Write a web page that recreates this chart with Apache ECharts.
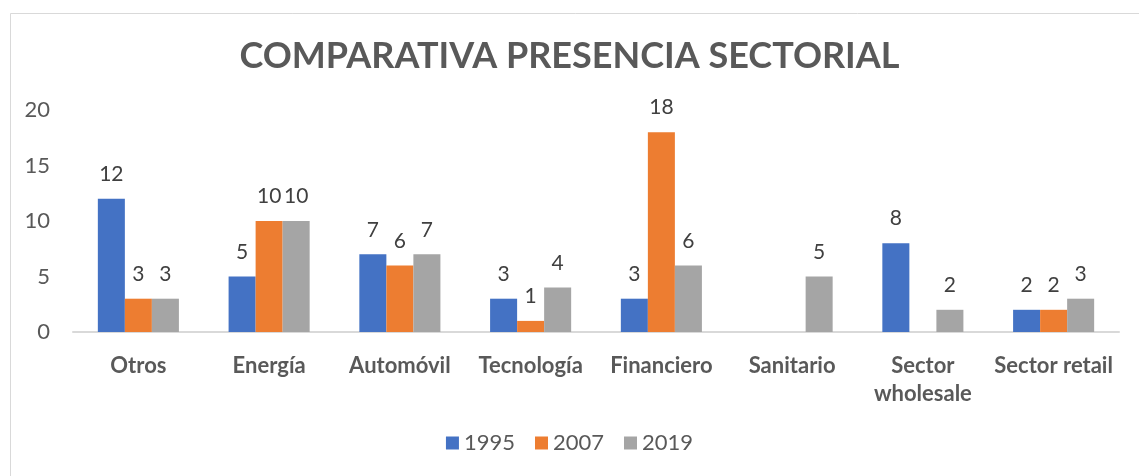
<!DOCTYPE html>
<html lang="es">
<head>
    <meta charset="UTF-8">
    <title>Comparativa presencia sectorial</title>
    <script src="https://cdn.jsdelivr.net/npm/echarts@6/dist/echarts.min.js"></script>
    <style>
        html, body { margin: 0; padding: 0; background: #fff; }
        #main { width: 1139px; height: 476px; }
    </style>
</head>
<body>
<div id="main"></div>
<script>
    // datos
    let sectores = ['Otros', 'Energía', 'Automóvil', 'Tecnología', 'Financiero', 'Sanitario', 'Sector wholesale', 'Sector retail']
    let anios = ['1995', '2007', '2019']
    let v1995 = [12, 5, 7, 3, 3, null, 8, 2]
    let v2007 = [3, 10, 6, 1, 18, null, null, 2]
    let v2019 = [3, 10, 7, 4, 6, 5, 2, 3]
    let colores = ['#4472c4', '#ed7d31', '#a5a5a5']

    let fuente = 'Lato'
    let gris = '#595959'

    let chart = echarts.init(document.getElementById('main'))

    function serie(name, data, i) {
        return {
            name: name,
            type: 'bar',
            data: data,
            barGap: '0%',
            barCategoryGap: '38%',
            itemStyle: { color: colores[i] },
            label: {
                show: true,
                position: 'top',
                distance: 14,
                color: '#404040',
                fontFamily: fuente,
                fontSize: 21
            }
        }
    }

    chart.setOption({
        backgroundColor: '#fff',
        animation: false,
        color: colores,
        graphic: [{
            type: 'rect',
            left: 8,
            top: 11,
            shape: { width: 1200, height: 500 },
            style: { fill: 'none', stroke: '#d9d9d9', lineWidth: 1 },
            silent: true
        }],
        title: {
            text: 'COMPARATIVA PRESENCIA SECTORIAL',
            left: 'center',
            top: 33,
            textStyle: {
                fontFamily: fuente,
                fontWeight: 'bold',
                fontSize: 36,
                color: gris
            }
        },
        legend: {
            bottom: 17,
            left: 'center',
            itemWidth: 13,
            itemHeight: 13,
            itemGap: 20,
            icon: 'rect',
            textStyle: { fontFamily: fuente, fontSize: 22, color: gris },
            data: anios
        },
        grid: { left: 73, right: 20, top: 110, bottom: 144 },
        xAxis: {
            type: 'category',
            data: sectores,
            axisLine: { lineStyle: { color: '#d9d9d9', width: 2 } },
            axisTick: { show: false },
            axisLabel: {
                interval: 0,
                margin: 20,
                fontFamily: fuente,
                fontWeight: 'bold',
                fontSize: 22,
                color: gris,
                lineHeight: 28,
                formatter: function (v) {
                    return v === 'Sector wholesale' ? 'Sector\nwholesale' : v
                }
            }
        },
        yAxis: {
            type: 'value',
            min: 0,
            max: 20,
            interval: 5,
            axisLine: { show: false },
            axisTick: { show: false },
            splitLine: { show: false },
            axisLabel: {
                margin: 23,
                fontFamily: fuente,
                fontSize: 22,
                color: gris
            }
        },
        series: [
            serie(anios[0], v1995, 0),
            serie(anios[1], v2007, 1),
            serie(anios[2], v2019, 2)
        ]
    })
</script>
</body>
</html>
